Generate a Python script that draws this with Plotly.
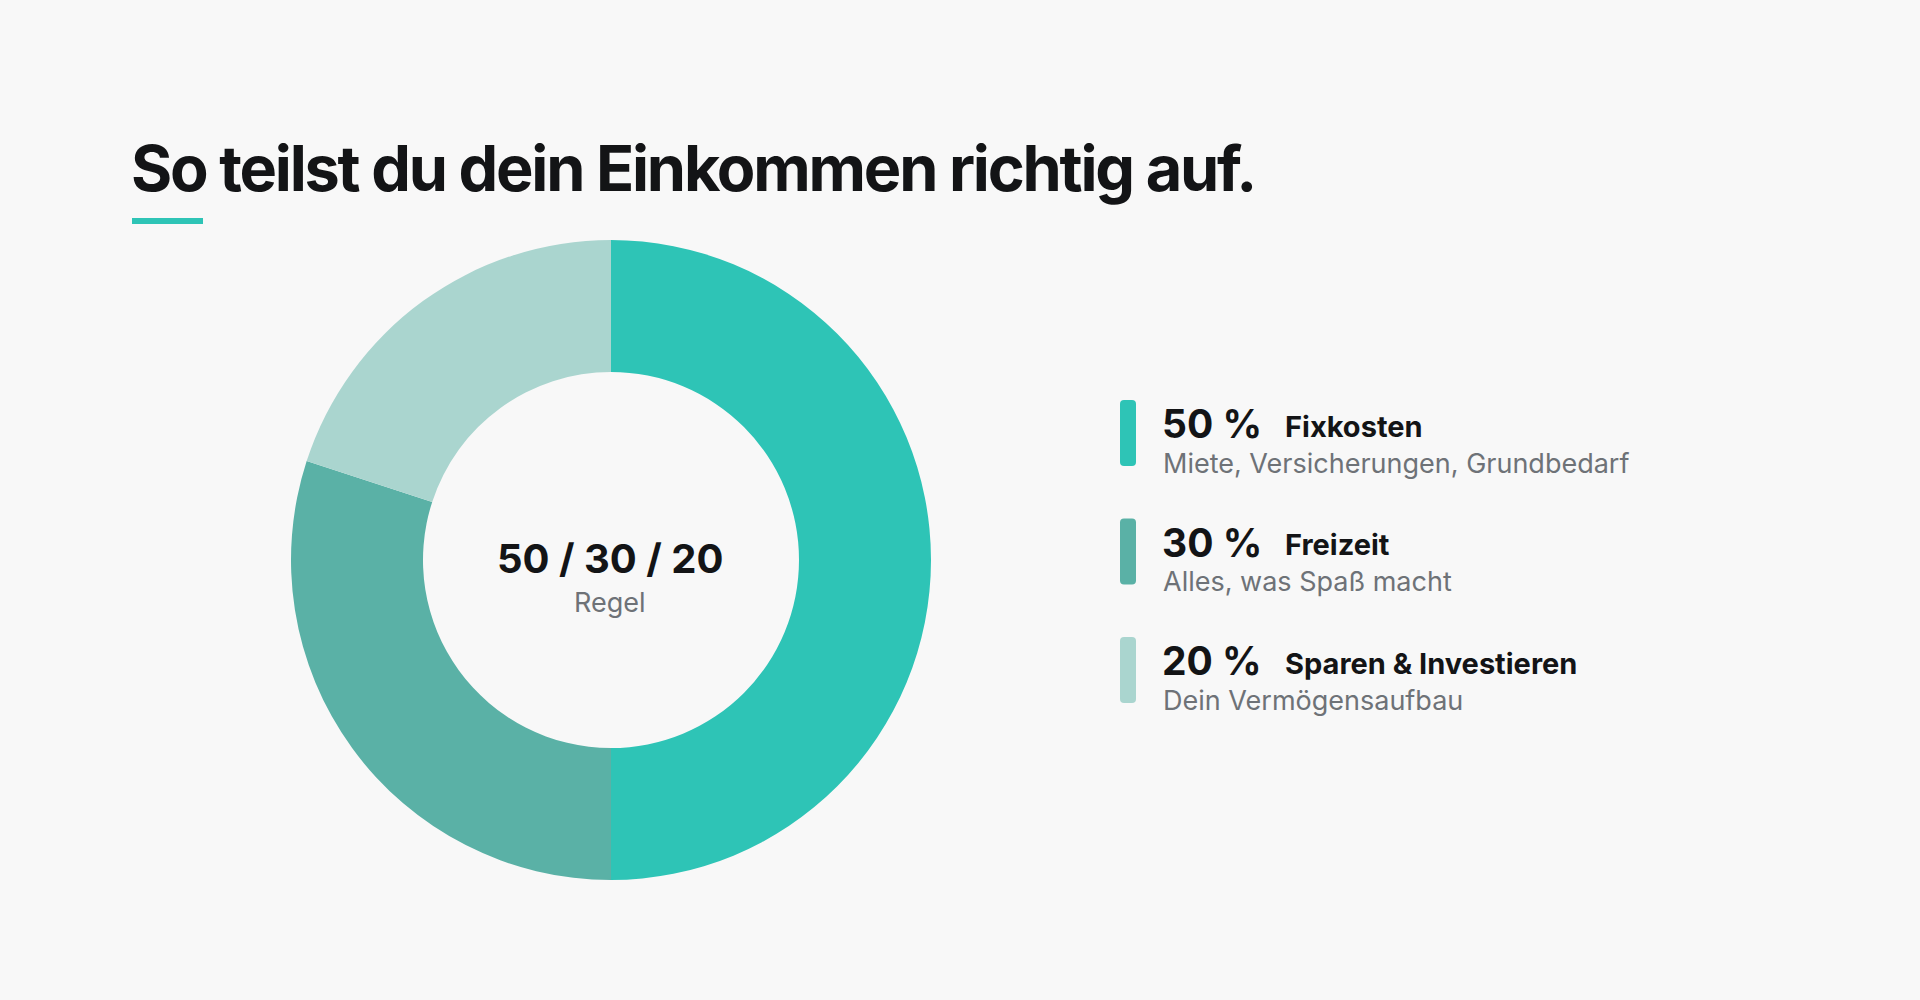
import plotly.graph_objects as go

W, H = 1920, 1000

# data
shares = [50, 30, 20]
categories = ["Fixkosten", "Freizeit", "Sparen & Investieren"]
details = ["Miete, Versicherungen, Grundbedarf", "Alles, was Spaß macht", "Dein Vermögensaufbau"]
colors = ["#2EC4B6", "#5AB1A6", "#AAD5CF"]
title = "So teilst du dein Einkommen richtig auf."
center_sub = "Regel"

BG = "#F8F8F8"
DARK = "#131416"
GREY = "#6E7277"
FONT = "Inter"


def px(x):
    return x / W


def py(y):
    return 1 - y / H


def label(x, baseline, s, size, color, weight, anchor="left"):
    # put the middle of the cap height on the wanted spot
    return dict(x=px(x), y=py(baseline - 0.3635 * size), xref="paper", yref="paper",
                text=s, showarrow=False, xanchor=anchor, yanchor="middle", align=anchor,
                font=dict(family=FONT, size=size, color=color, weight=weight))


def rounded_bar(x0, y0, x1, y1, r):
    pts = [("M", x0 + r, y0), ("L", x1 - r, y0), ("Q", x1, y0, x1, y0 + r),
           ("L", x1, y1 - r), ("Q", x1, y1, x1 - r, y1), ("L", x0 + r, y1),
           ("Q", x0, y1, x0, y1 - r), ("L", x0, y0 + r), ("Q", x0, y0, x0 + r, y0)]
    out = []
    for p in pts:
        coords = [f"{px(p[i])},{py(p[i + 1])}" for i in range(1, len(p), 2)]
        out.append(p[0] + " " + " ".join(coords))
    return " ".join(out) + " Z"


fig = go.Figure(go.Pie(
    values=shares, labels=categories, sort=False, direction="clockwise", rotation=0,
    hole=0.5875, textinfo="none", hoverinfo="label+percent", showlegend=False,
    marker=dict(colors=colors, line=dict(width=0)),
    domain=dict(x=[px(291), px(931)], y=[py(880), py(240)]),
))

annotations = [
    label(129, 191, title, 63, DARK, 700),
    label(610, 573, " / ".join(str(v) for v in shares), 40, DARK, 700, "center"),
    label(610, 612, center_sub, 27, GREY, 400, "center"),
]
shapes = [dict(type="rect", xref="paper", yref="paper", x0=px(132), x1=px(203),
               y0=py(224), y1=py(218), fillcolor=colors[0], line=dict(width=0))]

for i, (v, cat, det) in enumerate(zip(shares, categories, details)):
    top = 400 + 118.5 * i
    shapes.append(dict(type="path", xref="paper", yref="paper",
                       path=rounded_bar(1120, top, 1136, top + 66, 4),
                       fillcolor=colors[i], line=dict(width=0)))
    annotations.append(label(1160, top + 38, f"{v} %", 39, DARK, 700))
    annotations.append(label(1283, top + 37, cat, 29, DARK, 700))
    annotations.append(label(1161, top + 73, det, 27, GREY, 400))

fig.update_layout(
    width=W, height=H, margin=dict(l=0, r=0, t=0, b=0),
    paper_bgcolor=BG, plot_bgcolor=BG,
    annotations=annotations, shapes=shapes,
)

fix_page = """
document.body.style.margin = '0';
document.querySelectorAll('.annotation-text').forEach(function (t) {
    if (t.textContent.indexOf('So teilst') === 0) { t.setAttribute('letter-spacing', '-2.2px'); }
});
"""

fig.write_html("out.html", post_script=fix_page, config=dict(displayModeBar=False))
